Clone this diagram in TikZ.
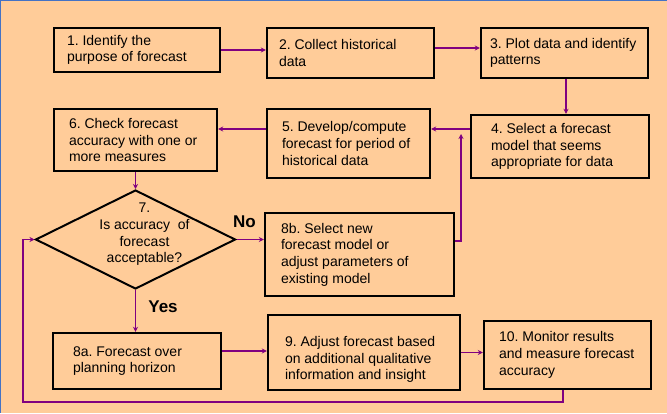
\documentclass[tikz,border=0pt]{standalone}
\usepackage{fontspec}
\setmainfont{Liberation Sans}
\usetikzlibrary{shapes.geometric, arrows.meta}
\definecolor{peach}{RGB}{255,204,153}
\definecolor{flowpurple}{RGB}{128,0,128}
\definecolor{edgeblue}{RGB}{68,114,196}
\frenchspacing

\begin{document}
\begin{tikzpicture}[x=1pt, y=-1pt,
    stepbox/.style={draw, line width=2.4pt, align=flush left, inner ysep=0pt, font=\fontsize{14}{16.7}\selectfont},
    flow/.style={draw=flowpurple, line width=1.6pt, -{Stealth[length=5pt, width=5pt]}},
    answer/.style={font=\fontsize{17}{20}\selectfont\bfseries, anchor=base}]
    \useasboundingbox (0,0) rectangle (667,413);
    \fill[peach] (0,0) rectangle (667,413);
    \draw[edgeblue, line width=2pt] (0,413) -- (0,0) -- (667,0);

    \node[stepbox, text width=140pt, inner xsep=13pt, minimum height=44pt] (b1) at (137,50) {1. Identify the\\purpose of forecast};
    \node[stepbox, text width=143pt, inner xsep=12pt, minimum height=50pt] (b2) at (350.5,53) {2. Collect historical\\data};
    \node[stepbox, text width=149pt, inner xsep=9pt, minimum height=50pt] (b3) at (564.5,53) {3. Plot data and identify\\patterns};
    \node[stepbox, text width=138pt, inner xsep=20pt, minimum height=63pt] (b4) at (560,146.5) {4. Select a forecast\\model that seems\\appropriate for data};
    \node[stepbox, text width=133pt, inner xsep=15pt, minimum height=69pt] (b5) at (348.5,143.5) {5. Develop/compute\\forecast for period of\\historical data};
    \node[stepbox, text width=133pt, inner xsep=15pt, minimum height=62pt] (b6) at (135.5,140) {6. Check forecast\\accuracy with one or\\more measures};
    \node[draw, diamond, line width=2pt, inner sep=0pt, minimum width=200pt, minimum height=99pt] (q7) at (135.5,239.5) {};
    \node[align=center, inner sep=0pt, font=\fontsize{14}{16.7}\selectfont] (q7text) at (144.5,234.5) {7.\\Is accuracy\ \ of\\forecast\\acceptable?};
    \node[stepbox, text width=157pt, inner xsep=16pt, minimum height=83pt] (b8b) at (359.5,254.5) {8b. Select new\\forecast model or\\adjust parameters of\\existing model};
    \node[stepbox, text width=128pt, inner xsep=20pt, minimum height=56pt] (b8a) at (137,361) {8a. Forecast over\\planning horizon};
    \node[stepbox, text width=158pt, inner xsep=17pt, minimum height=75pt, text height=24pt] (b9) at (364,352.5) {9. Adjust forecast based\\on additional qualitative\\information and insight};
    \node[stepbox, text width=137pt, inner xsep=15pt, minimum height=68pt] (b10) at (567.5,355) {10. Monitor results\\and measure forecast\\accuracy};

    \node[answer] (no) at (244.5,227) {No};
    \node[answer] (yes) at (163,312) {Yes};

    \coordinate (back4) at (461,134);
    \coordinate (loopcorner) at (23,402);

    \draw[flow] (b1.east) -- (b1.east -| b2.west);
    \draw[flow] ([yshift=5pt]b2.east) -- ([yshift=5pt]b2.east -| b3.west);
    \draw[flow] ([xshift=1.5pt]b3.south) -- ([xshift=1.5pt]b3.south |- b4.north);
    \draw[flow] ([yshift=17.5pt]b4.west) -- ([yshift=17.5pt]b4.west -| b5.east);
    \draw[flow] ([yshift=14.5pt]b5.west) -- ([yshift=14.5pt]b5.west -| b6.east);
    \draw[flow] (b6.south) -- (q7.north);
    \draw[flow] (q7.east) -- (q7.east -| b8b.west);
    \draw[flow] (q7.south) -- (q7.south |- b8a.north);
    \draw[flow] ([yshift=13.5pt]b8b.east) -| (back4);
    \draw[flow] ([yshift=10pt]b8a.east) -- ([yshift=10pt]b8a.east -| b9.west);
    \draw[flow] (b9.east) -- (b9.east -| b10.west);
    \draw[flow] ([xshift=-4.5pt]b10.south) |- (loopcorner) |- (q7.west);
\end{tikzpicture}
\end{document}
